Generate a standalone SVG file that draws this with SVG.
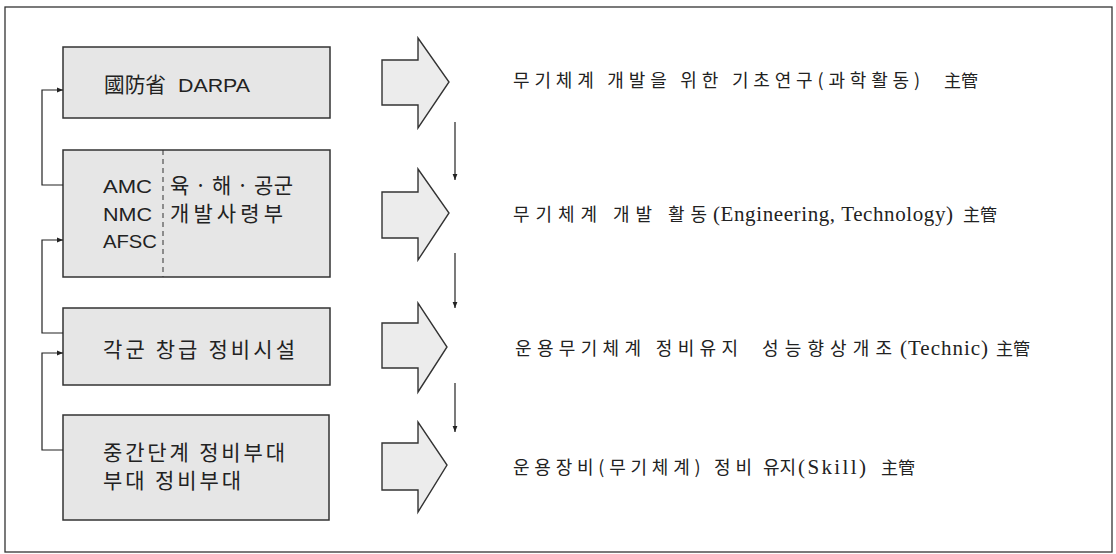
<svg xmlns="http://www.w3.org/2000/svg" width="1116" height="554" viewBox="0 0 1116 554">
<defs>
<style>
.box{fill:#e6e6e6;stroke:#333;stroke-width:1.5}
.blk{fill:#ececec;stroke:#333;stroke-width:1.4;stroke-linejoin:miter}
.con{fill:none;stroke:#222;stroke-width:1.2}
.lt{font-family:"Liberation Sans","Noto Sans CJK KR",sans-serif;font-size:19px;fill:#222}
.ko{font-family:"Noto Sans CJK KR",sans-serif;font-size:21px;fill:#222}
.rk{font-family:"Noto Sans CJK KR",sans-serif;font-size:18px;fill:#222}
.hz{font-family:"Noto Sans CJK KR",sans-serif;font-size:17px;fill:#222}
.rl{font-family:"Liberation Serif",serif;font-size:21px;fill:#222}
</style>
<marker id="ah" viewBox="0 0 10 10" refX="10" refY="5" markerWidth="9" markerHeight="6" markerUnits="userSpaceOnUse" orient="auto"><path d="M0,1 L10,5 L0,9 Z" fill="#222"/></marker>
</defs>
<rect x="5" y="7" width="1107" height="545" fill="#fff" stroke="#333" stroke-width="1.3"/>

<g id="n1">
<rect class="box" x="63" y="47" width="267" height="71"/>
<text x="104" y="92" class="ko" textLength="62" lengthAdjust="spacingAndGlyphs">國防省</text>
<text x="178" y="92" class="lt" font-size="21" textLength="72" lengthAdjust="spacingAndGlyphs">DARPA</text>
</g>
<g id="n2">
<rect class="box" x="63" y="150" width="267" height="127"/>
<line x1="163" y1="150" x2="163" y2="277" stroke="#333" stroke-width="1" stroke-dasharray="5,4"/>
<text x="103" y="193" class="lt" textLength="49" lengthAdjust="spacingAndGlyphs">AMC</text>
<text x="103" y="221" class="lt" textLength="49" lengthAdjust="spacingAndGlyphs">NMC</text>
<text x="103" y="248" class="lt" textLength="54" lengthAdjust="spacingAndGlyphs">AFSC</text>
<text x="170" y="193" class="ko" textLength="123" lengthAdjust="spacing">육 · 해 · 공군</text>
<text x="170" y="221" class="ko" textLength="113" lengthAdjust="spacing">개발사령부</text>
</g>
<g id="n3">
<rect class="box" x="63" y="308" width="267" height="77"/>
<text x="103" y="357" class="ko" textLength="192" lengthAdjust="spacing">각군 창급 정비시설</text>
</g>
<g id="n4">
<rect class="box" x="63" y="415" width="266" height="105"/>
<text x="103" y="460" class="ko" font-size="19" textLength="182" lengthAdjust="spacing">중간단계 정비부대</text>
<text x="103" y="488" class="ko" font-size="19" textLength="138" lengthAdjust="spacing">부대 정비부대</text>
</g>

<g id="blockarrows">
<path class="blk" d="M382,60 H418 V38 L449,82 L418,128 V105 H382 Z"/>
<path class="blk" d="M382,192 H418 V169 L449,213 L418,260 V238 H382 Z"/>
<path class="blk" d="M382,323 H418 V303 L447,347 L418,392 V368 H382 Z"/>
<path class="blk" d="M382,443 H418 V422 L447,465 L418,512 V490 H382 Z"/>
</g>

<g id="connectors">
<polyline class="con" points="63,185 42,185 42,90 63,90" marker-end="url(#ah)"/>
<polyline class="con" points="63,333 42,333 42,240 63,240" marker-end="url(#ah)"/>
<polyline class="con" points="63,450 42,450 42,353 63,353" marker-end="url(#ah)"/>
<line class="con" x1="455" y1="122" x2="455" y2="180" marker-end="url(#ah)"/>
<line class="con" x1="455" y1="253" x2="455" y2="308" marker-end="url(#ah)"/>
<line class="con" x1="455" y1="383" x2="455" y2="432" marker-end="url(#ah)"/>
</g>

<g id="labels">
<text y="87"><tspan x="513" class="rk" textLength="407" lengthAdjust="spacing">무기체계 개발을 위한 기초연구(과학활동)</tspan><tspan x="944" class="hz">主管</tspan></text>
<text y="221"><tspan x="513" class="rk" textLength="194" lengthAdjust="spacing">무기체계 개발 활동</tspan><tspan x="713" class="rl" textLength="240" lengthAdjust="spacing">(Engineering, Technology)</tspan><tspan x="963" class="hz">主管</tspan></text>
<text y="355"><tspan x="515" class="rk" textLength="223" lengthAdjust="spacing">운용무기체계 정비유지</tspan><tspan x="762" class="rk" textLength="130" lengthAdjust="spacing">성능향상개조</tspan><tspan x="900" class="rl" textLength="88" lengthAdjust="spacing">(Technic)</tspan><tspan x="996" class="hz">主管</tspan></text>
<text y="474"><tspan x="513" class="rk" textLength="239" lengthAdjust="spacing">운용장비(무기체계) 정비</tspan><tspan x="763" class="rk">유지</tspan><tspan x="798" class="rl" textLength="68" lengthAdjust="spacing">(Skill)</tspan><tspan x="881" class="hz">主管</tspan></text>
</g>
</svg>
